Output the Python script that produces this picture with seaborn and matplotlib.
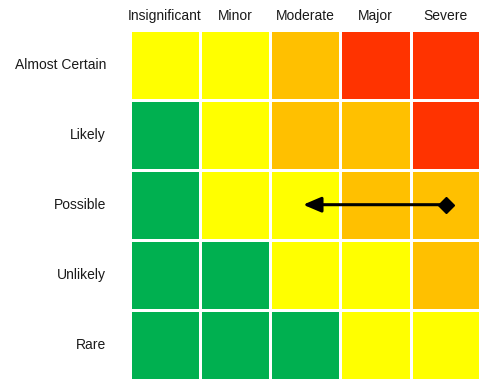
import numpy as np
import pandas as pd
import seaborn as sns
import matplotlib
matplotlib.use("Agg")
import matplotlib.pyplot as plt
from matplotlib.colors import ListedColormap

# Consequence (columns) and likelihood (rows) categories
impact = ["Insignificant", "Minor", "Moderate", "Major", "Severe"]
likelihood = ["Almost Certain", "Likely", "Possible", "Unlikely", "Rare"]

# Risk level per cell: 0 = low, 1 = medium, 2 = high, 3 = extreme
almost_certain = [1, 1, 2, 3, 3]
likely = [0, 1, 2, 2, 3]
possible = [0, 1, 1, 2, 2]
unlikely = [0, 0, 1, 1, 2]
rare = [0, 0, 0, 1, 1]

level_colors = ["#00B050", "#FFFF00", "#FFC000", "#FF3300"]

# Risk movement within the "Possible" row: from Severe towards Moderate
move_row = "Possible"
move_from = "Severe"
move_to = "Moderate"

grid = pd.DataFrame([almost_certain, likely, possible, unlikely, rare],
                    index=likelihood, columns=impact)

sns.set_theme(style="white")
plt.rcParams["font.family"] = ["Liberation Sans", "DejaVu Sans"]

fig = plt.figure(figsize=(4.79, 3.81), dpi=100)
ax = fig.add_axes([129.7 / 479, 1.3 / 381, 351 / 479, 350 / 381])

sns.heatmap(grid, ax=ax, cmap=ListedColormap(level_colors), vmin=-0.5, vmax=3.5,
            cbar=False, linewidths=1.9, linecolor="white", square=False)

ax.xaxis.tick_top()
ax.tick_params(axis="x", length=0, pad=5, labelsize=10, labelcolor="#1a1a1a")
ax.tick_params(axis="y", length=0, pad=17, labelsize=10, labelcolor="#1a1a1a")
plt.setp(ax.get_yticklabels(), rotation=0, ha="right")
plt.setp(ax.get_xticklabels(), rotation=0)
ax.set_xlabel("")
ax.set_ylabel("")

row_y = likelihood.index(move_row) + 0.5
x_start = impact.index(move_from) + 0.5
x_end = impact.index(move_to) + 0.47

ax.annotate("", xy=(x_end, row_y), xytext=(x_start, row_y),
            arrowprops=dict(arrowstyle="-|>,head_length=0.4,head_width=0.17",
                            color="black", lw=2.2, mutation_scale=27,
                            shrinkA=0, shrinkB=0))
ax.plot([x_start], [row_y], marker="D", markersize=8, color="black")

fig.savefig("out.png", dpi=100)
